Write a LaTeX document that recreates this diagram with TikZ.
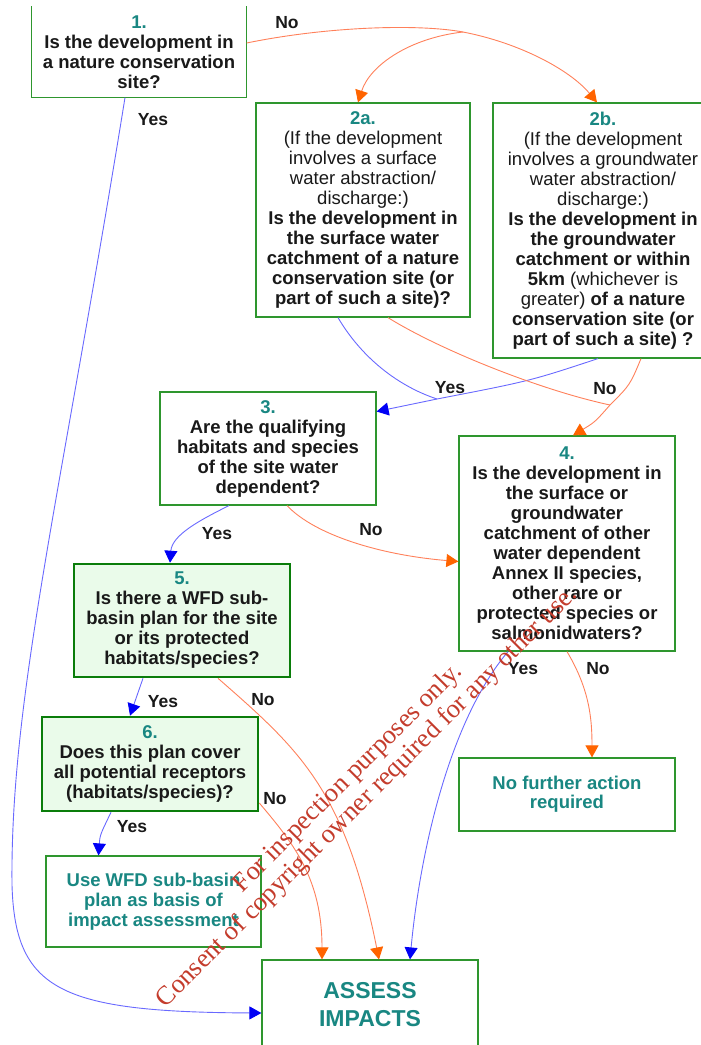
\documentclass[tikz,border=0pt]{standalone}
\usepackage{xcolor}
\usepackage{fontspec}
\setmainfont{Liberation Sans}
\newfontfamily\stampfont{Liberation Serif}
\usetikzlibrary{arrows.meta}

\definecolor{boxgreen}{RGB}{46,150,46}
\definecolor{plangreen}{RGB}{10,125,10}
\definecolor{planfill}{RGB}{234,251,234}
\definecolor{tealtext}{RGB}{25,135,130}
\definecolor{inktext}{RGB}{25,25,25}
\definecolor{yesblue}{RGB}{105,105,255}
\definecolor{tipblue}{RGB}{0,0,245}
\definecolor{noorange}{RGB}{255,128,90}
\definecolor{tiporange}{RGB}{255,100,0}
\definecolor{stampred}{RGB}{196,60,44}

\newcommand{\stepnum}[1]{{\color{tealtext}#1}}
\newcommand{\lightpart}[1]{{\mdseries #1}}

\tikzset{
  qbox/.style={draw=boxgreen, line width=1.2pt, fill=white, inner sep=0pt,
    align=center, text=inktext, font=\fontsize{18.5}{20}\selectfont\bfseries},
  planbox/.style={qbox, draw=plangreen, line width=2.6pt, fill=planfill},
  endbox/.style={qbox, text=tealtext},
  boxline/.style={draw=boxgreen, line width=1.2pt},
  yesline/.style={draw=yesblue, line width=0.9pt},
  noline/.style={draw=noorange, line width=0.9pt},
  yesarrow/.style={yesline, -{Triangle[length=12pt,width=13pt,color=tipblue,fill=tipblue]}},
  noarrow/.style={noline, -{Triangle[length=12pt,width=13pt,color=tiporange,fill=tiporange]}},
  answer/.style={inner sep=0pt, text=inktext, font=\fontsize{17.5}{19}\selectfont\bfseries},
  stamp/.style={inner sep=0pt, align=center, rotate=45, text=stampred,
    font=\stampfont\fontsize{26.5}{27}\selectfont},
}

\begin{document}
\begin{tikzpicture}[x=1pt,y=-1pt]
    \useasboundingbox (0,0) rectangle (701,1045);
    \clip (0,0) rectangle (701,1045);

    % 定义问题框
    \node[qbox,draw=none,minimum width=214pt,minimum height=90pt] (q1) at (139,52)
      {\stepnum{1.}\\Is the development in\\a nature conservation\\site?};
    \draw[boxline] (q1.north west) -- (q1.south west) -- (q1.south east) -- (q1.north east);

    \node[qbox,minimum width=214pt,minimum height=214pt] (q2a) at (363,210)
      {\stepnum{2a.}\\\lightpart{(If the development}\\\lightpart{involves a surface}\\
       \lightpart{water abstraction/}\\\lightpart{discharge:)}\\Is the development in\\
       the surface water\\catchment of a nature\\conservation site (or\\part of such a site)?};
    \node[qbox,minimum width=220pt,minimum height=255pt] (q2b) at (603,230.5)
      {\stepnum{2b.}\\\lightpart{(If the development}\\\lightpart{involves a groundwater}\\
       \lightpart{water abstraction/}\\\lightpart{discharge:)}\\Is the development in\\
       the groundwater\\catchment or within\\5km \lightpart{(whichever is}\\
       \lightpart{greater)} of a nature\\conservation site (or\\part of such a site) ?};
    \node[qbox,minimum width=216pt,minimum height=113pt] (q3) at (268,448.5)
      {\stepnum{3.}\\Are the qualifying\\habitats and species\\of the site water\\dependent?};
    \node[qbox,minimum width=216pt,minimum height=215pt] (q4) at (567,543.5)
      {\stepnum{4.}\\Is the development in\\the surface or\\groundwater\\catchment of other\\
       water dependent\\Annex II species,\\other rare or\\protected species or\\salmonidwaters?};
    \node[planbox,minimum width=216pt,minimum height=113pt] (q5) at (182,620.5)
      {\stepnum{5.}\\Is there a WFD sub-\\basin plan for the site\\or its protected\\habitats/species?};
    \node[planbox,minimum width=216pt,minimum height=94pt] (q6) at (150,764)
      {\stepnum{6.}\\Does this plan cover\\all potential receptors\\(habitats/species)?};

    % 结果框
    \node[endbox,minimum width=215pt,minimum height=91pt] (useplan) at (153.5,901.5)
      {Use WFD sub-basin\\plan as basis of\\impact assessment};
    \node[endbox,minimum width=216pt,minimum height=73pt,
      font=\fontsize{18.5}{19}\selectfont\bfseries] (nofurther) at (567,794.5)
      {No further action\\required};
    \node[endbox,minimum width=216pt,minimum height=90pt,
      font=\fontsize{23}{28}\selectfont\bfseries] (assess) at (370,1005)
      {ASSESS\\IMPACTS};

    % 分叉点
    \coordinate (nosplit) at (463,32);
    \coordinate (yesjoin) at (437,399);
    \coordinate (nojoin) at (610,405);
    \coordinate (leftbend) at (12,885);

    % 使用变量连线
    \draw[noline] ([yshift=9pt]q1.east) .. controls (330,26) and (420,24) .. (nosplit);
    \draw[noarrow] (nosplit) .. controls (410,38) and (370,65) .. ([xshift=-5pt]q2a.north);
    \draw[noarrow] (nosplit) .. controls (520,43) and (570,70) .. ([xshift=-6pt]q2b.north);
    \draw[yesarrow] ([xshift=-14pt]q1.south) .. controls (60,500) and (10,700) .. (leftbend)
      .. controls (15,990) and (60,1012) .. ([yshift=-8pt]assess.west);

    \draw[yesline] ([xshift=-25pt]q2a.south) .. controls (360,355) and (395,385) .. (yesjoin);
    \draw[yesarrow] ([xshift=-5pt]q2b.south) .. controls (530,381) .. (yesjoin) -- ([yshift=37pt]q3.east);
    \draw[noline] ([xshift=25pt]q2a.south) .. controls (440,350) and (540,390) .. (nojoin);
    \draw[noarrow] ([xshift=38pt]q2b.south) .. controls (630,385) .. (nojoin)
      .. controls (595,422) .. ([xshift=6pt]q4.north);

    \draw[yesarrow] ([xshift=-39pt]q3.south) .. controls (200,520) and (172,535) .. ([xshift=-12pt]q5.north);
    \draw[noarrow] ([xshift=19pt]q3.south) .. controls (315,535) and (380,555) .. ([yshift=-18pt]q4.west);

    \draw[yesarrow] ([xshift=-59pt]q4.south) .. controls (446,725) and (419,863) .. ([xshift=40pt]assess.north);
    \draw[noarrow] (q4.south) .. controls (590,690) and (592,720) .. ([xshift=25pt]nofurther.north);

    \draw[yesarrow] ([xshift=-39pt]q5.south) -- ([xshift=-20pt]q6.north);
    \draw[noarrow] ([xshift=36pt]q5.south) .. controls (300,750) and (345,790) .. ([xshift=9pt]assess.north);

    \draw[yesarrow] ([xshift=-39pt]q6.south) .. controls (100,835) .. ([xshift=-55pt]useplan.north);
    \draw[noarrow] ([yshift=-39pt]q6.east) .. controls (295,845) and (322,880) .. ([xshift=-48pt]assess.north);

    % 答案标签
    \node[answer] (a1no) at (287,23) {No};
    \node[answer] (a1yes) at (153,120) {Yes};
    \node[answer] (a2yes) at (450,388) {Yes};
    \node[answer] (a2no) at (605,389) {No};
    \node[answer] (a3yes) at (217,534) {Yes};
    \node[answer] (a3no) at (371,530) {No};
    \node[answer] (a4yes) at (523,669) {Yes};
    \node[answer] (a4no) at (598,669) {No};
    \node[answer] (a5yes) at (163,702) {Yes};
    \node[answer] (a5no) at (263,700) {No};
    \node[answer] (a6yes) at (132,827) {Yes};
    \node[answer] (a6no) at (275,799) {No};

    % 水印
    \node[stamp] (watermark) at (358,788)
      {For inspection purposes only.\\Consent of copyright owner required for any other use.};

\end{tikzpicture}
\end{document}
